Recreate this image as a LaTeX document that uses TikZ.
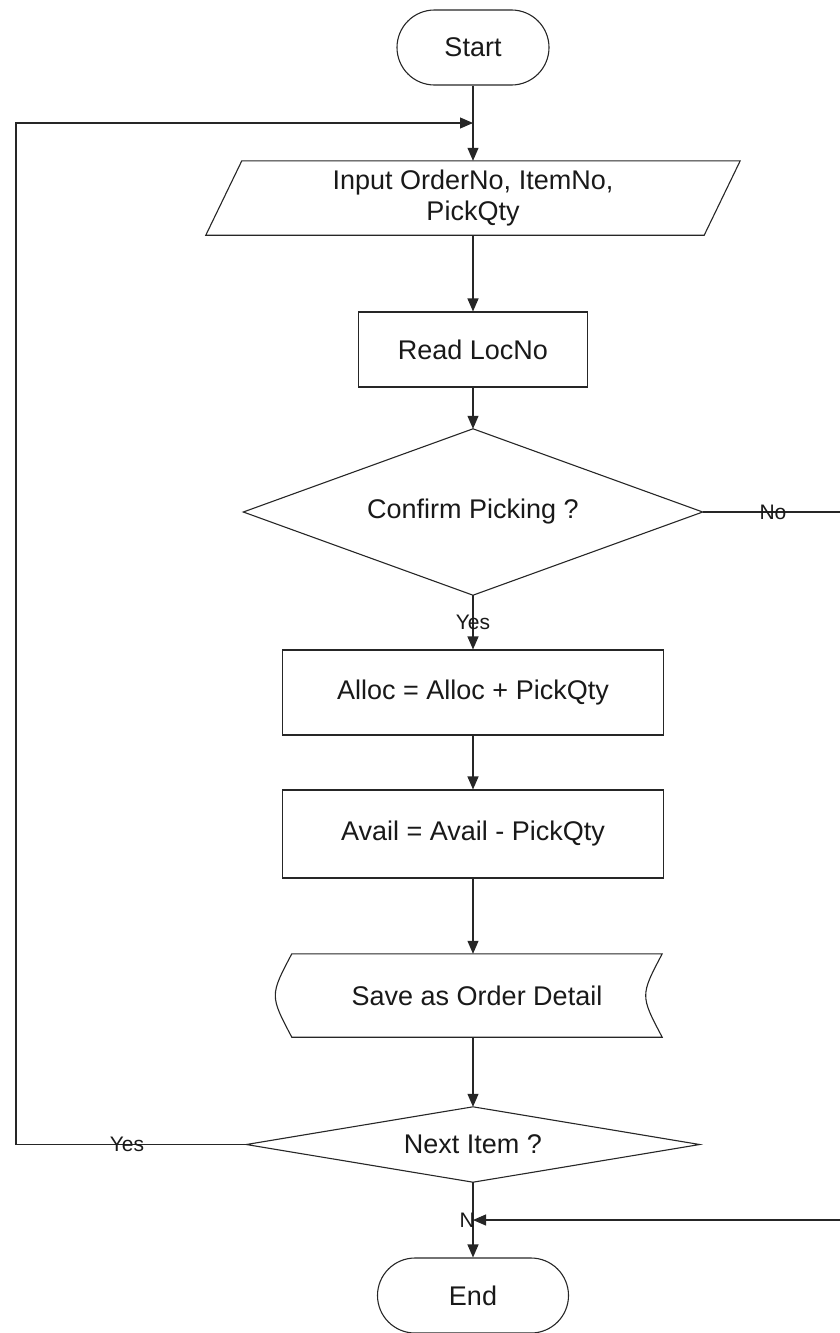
\documentclass[tikz,border=0pt]{standalone}
\usepackage{fontspec}
\setmainfont{Liberation Sans}
\usetikzlibrary{arrows.meta}
\begin{document}
\begin{tikzpicture}[x=1pt,y=-1pt,
  line/.style={draw=black!85,line width=1.1pt},
  arr/.style={line,-{Triangle[length=13pt,width=11pt]}},
  txt/.style={font=\fontsize{27}{31}\selectfont,text=black!90,align=center},
  lbl/.style={font=\fontsize{21}{24}\selectfont,text=black!90,inner sep=0pt},
  term/.style={txt,line,rectangle,rounded corners=37.5pt,minimum height=75pt},
  proc/.style={txt,line,rectangle,inner sep=0pt},
  plain/.style={txt,inner sep=0pt}
]
\useasboundingbox (0,0) rectangle (839,1333);

% flow nodes
\node[term,minimum width=152pt] (start) at (473,47.5) {Start};
\node[plain,minimum width=498pt,minimum height=74pt] (input) at (473,198)
  {Input OrderNo, ItemNo,\\PickQty};
\draw[line] ([xshift=18pt]input.north west) -- ([xshift=18pt]input.north east)
  -- ([xshift=-18pt]input.south east) -- ([xshift=-18pt]input.south west) -- cycle;
\node[proc,minimum width=229pt,minimum height=75pt] (read) at (473,349.5) {Read LocNo};
\node[plain,minimum width=459pt,minimum height=166pt] (confirm) at (473,512) {Confirm Picking ?};
\draw[line] (confirm.north) -- (confirm.east) -- (confirm.south) -- (confirm.west) -- cycle;
\node[proc,minimum width=381pt,minimum height=85pt] (alloc) at (473,692.5) {Alloc = Alloc + PickQty};
\node[proc,minimum width=381pt,minimum height=88pt] (avail) at (473,834) {Avail = Avail - PickQty};
\node[plain,minimum width=370pt,minimum height=83pt] (save) at (477,995.5) {Save as Order Detail};
\draw[line] (save.north west) -- (save.north east)
  .. controls ([xshift=-22pt]save.east) .. (save.south east)
  -- (save.south west)
  .. controls ([xshift=-22pt]save.west) .. cycle;
\node[plain,minimum width=453pt,minimum height=75pt] (next) at (473,1144.5) {Next Item ?};
\draw[line] (next.north) -- (next.east) -- (next.south) -- (next.west) -- cycle;
\node[term,minimum width=191pt] (end) at (473,1295.5) {End};

% junctions and bends
\coordinate (jtop) at (473,123);
\coordinate (ltop) at (16,123);
\coordinate (lbot) at (16,1144.5);
\coordinate (rtop) at (842,512);
\coordinate (rbot) at (842,1220);
\coordinate (jbot) at (473,1220);

% main flow
\draw[arr] (start) -- (input.north);
\draw[arr] (input.south) -- (read.north);
\draw[arr] (read.south) -- (confirm.north);
\draw[arr] (confirm.south) -- (alloc.north);
\node[lbl] (yes1) at (473,622) {Yes};
\draw[arr] (alloc.south) -- (avail.north);
\draw[arr] (avail.south) -- (avail.south |- save.north);
\draw[arr] (avail.south |- save.south) -- (next.north);
\draw[arr] (next.south) -- (end.north);

% loop back for the next item
\draw[arr] (next.west) -- (lbot) -- (ltop) -- (jtop);
\node[lbl] (yes2) at (127,1144.5) {Yes};

% picking not confirmed
\draw[line] (confirm.east) -- (rtop);
\node[lbl] (no1) at (773,512) {No};
\node[lbl,anchor=east] (no2) at (475,1220) {N};
\draw[arr] (rtop) -- (rbot) -- (jbot);
\end{tikzpicture}
\end{document}
